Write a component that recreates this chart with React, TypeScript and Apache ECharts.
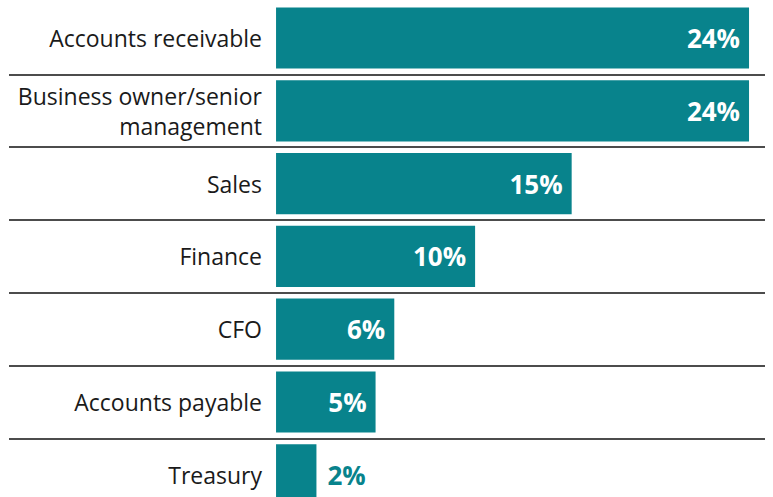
import React, { useEffect, useRef } from "react";
import * as echarts from "echarts";

const categories = [
  "Accounts receivable",
  "Business owner/senior\nmanagement",
  "Sales",
  "Finance",
  "CFO",
  "Accounts payable",
  "Treasury",
];
const values = [24, 24, 15, 10.1, 6, 5.05, 2.05];
const insideLabel = [true, true, true, true, true, true, false];

const TEAL = "#08838c";

export default function App() {
  const ref = useRef<HTMLDivElement>(null);
  useEffect(() => {
    document.body.style.margin = "0";
    const chart = echarts.init(ref.current!, null, { renderer: "svg" });
    chart.setOption({
      animation: false,
      grid: {
        left: 9,
        right: 8,
        top: 1.6,
        bottom: -14.2,
        containLabel: false,
        outerBoundsMode: "none",
      },
      xAxis: {
        type: "value",
        min: -13.55,
        max: 24.81,
        show: false,
      },
      yAxis: {
        type: "category",
        inverse: true,
        data: categories,
        offset: -267,
        axisLine: { show: false, onZero: false },
        axisTick: { show: false },
        axisLabel: {
          margin: 14,
          fontFamily: "Open Sans",
          fontSize: 23,
          color: "#1a1a1a",
          lineHeight: 30,
          align: "right",
        },
        splitLine: {
          show: true,
          interval: (index: number) => index !== 0,
          lineStyle: { color: "#111", width: 1.6 },
        },
      },
      series: [
        {
          type: "bar",
          data: values.map((v, i) => ({
            value: v,
            label: insideLabel[i]
              ? { position: "insideRight", distance: 9, color: "#fff" }
              : { position: "right", distance: 11, color: TEAL },
          })),
          barCategoryGap: "16%",
          itemStyle: { color: TEAL },
          label: {
            show: true,
            fontFamily: "Open Sans",
            fontWeight: "bold",
            fontSize: 26,
            formatter: (p: any) => Math.round(p.value) + "%",
          },
        },
      ],
    });
    return () => chart.dispose();
  }, []);
  return (
    <div
      ref={ref}
      style={{ position: "absolute", left: 0, top: 0, width: 773, height: 497 }}
    />
  );
}
